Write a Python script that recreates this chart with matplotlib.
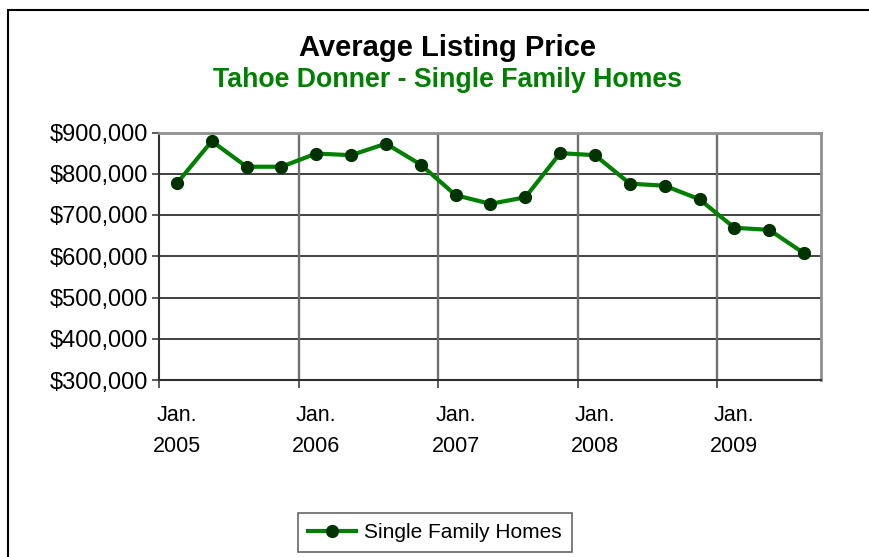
import matplotlib.pyplot as plt
import matplotlib.patches as patches
import numpy as np

plt.rcParams['font.family'] = ['Liberation Sans', 'DejaVu Sans']

# quarterly average listing price, Jan 2005 .. Jul 2009
prices = [777000, 879000, 817000, 817000, 849000, 845000, 873000, 822000,
          748000, 727000, 743000, 850000, 845000, 776000, 771000, 738000,
          669000, 664000, 607000]
tick_labels = ["Jan.\n2005", "Jan.\n2006", "Jan.\n2007", "Jan.\n2008", "Jan.\n2009"]
y_ticks = [300000, 400000, 500000, 600000, 700000, 800000, 900000]

fig = plt.figure(figsize=(8.7, 5.57), dpi=100)

# outer chart border (runs off the right and bottom edge)
fig.patches.append(patches.Rectangle((8 / 870, -0.1), 1.0, 1 - 10 / 557 + 0.1,
                                     transform=fig.transFigure, fill=False,
                                     edgecolor="black", lw=1.5))

ax = fig.add_axes([159.5 / 870, 1 - 380 / 557, 662 / 870, 247.5 / 557])
x = np.arange(len(prices))
ax.plot(x, prices, color="#008000", lw=3, marker="o", ms=8.5,
        mfc="#003300", mec="#003300", label="Single Family Homes", zorder=3)

ax.set_xlim(-0.5, len(prices) - 0.5)
ax.set_ylim(300000, 900000)
ax.set_yticks(y_ticks)
ax.set_yticklabels(["${:,}".format(v) for v in y_ticks], fontsize=17)
for v in y_ticks[1:-1]:
    ax.axhline(v, color="#202020", lw=1.2, zorder=1)

# year boundaries: gridlines between categories, labels at the january points
bounds = [-0.5, 3.5, 7.5, 11.5, 15.5]
for b in bounds[1:]:
    ax.axvline(b, color="#707070", lw=1.7, zorder=1)
ax.set_xticks(bounds)
ax.set_xticklabels([])
ax.set_xticks([0, 4, 8, 12, 16], minor=True)
ax.set_xticklabels(tick_labels, minor=True, fontsize=15.5, linespacing=1.65)
ax.tick_params(axis="x", which="minor", length=0, pad=18)
ax.tick_params(axis="x", which="major", length=6, width=1.2, color="#404040")
ax.tick_params(axis="y", length=5, width=1.2, color="#404040", pad=3)

for side in ["left", "bottom"]:
    ax.spines[side].set_color("#303030")
    ax.spines[side].set_linewidth(1.5)
for side in ["top", "right"]:
    ax.spines[side].set_color("#909090")
    ax.spines[side].set_linewidth(2)

fig.text(0.514, 1 - 48 / 557, "Average Listing Price", ha="center", va="center",
         fontsize=21, fontweight="bold", color="black")
fig.text(0.514, 1 - 80 / 557, "Tahoe Donner - Single Family Homes", ha="center",
         va="center", fontsize=19.3, fontweight="bold", color="#008000")

leg = fig.legend(loc="center", bbox_to_anchor=(435 / 870, 1 - 532.5 / 557),
                 fontsize=15, frameon=True, fancybox=False, handlelength=2.3,
                 borderpad=0.5, handletextpad=0.4)
leg.get_frame().set_edgecolor("#404040")
leg.get_frame().set_linewidth(1.2)

fig.savefig("out.png", dpi=100)
